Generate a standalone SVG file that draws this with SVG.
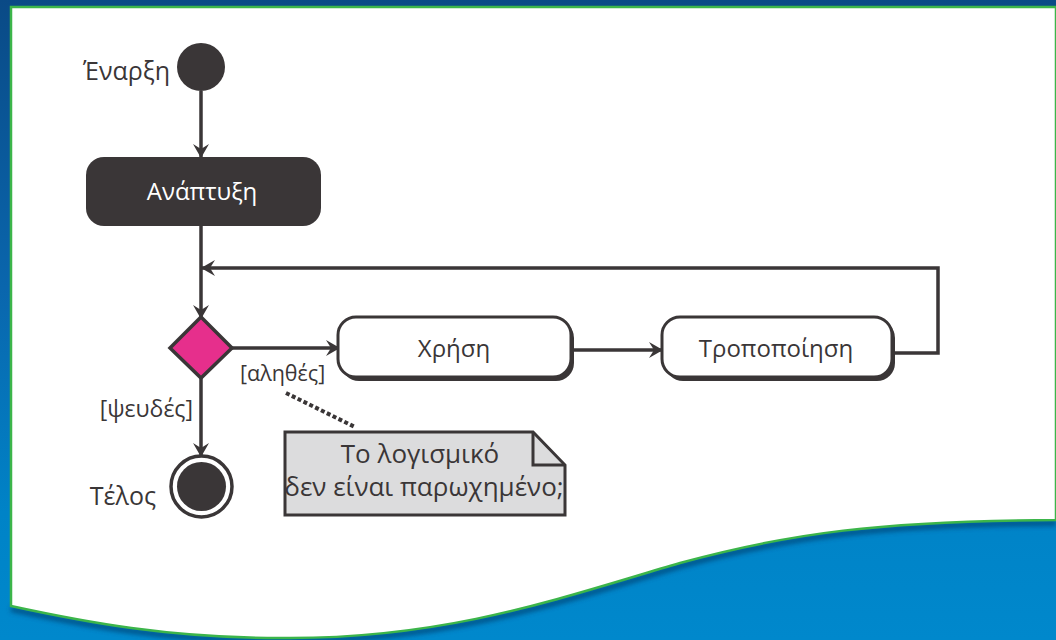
<svg xmlns="http://www.w3.org/2000/svg" width="1056" height="640" viewBox="0 0 1056 640">
  <defs>
    <linearGradient id="bgGrad" x1="0" y1="0" x2="0" y2="1">
      <stop offset="0" stop-color="#0a4a86"/>
      <stop offset="0.45" stop-color="#0a66ad"/>
      <stop offset="0.8" stop-color="#0083c7"/>
      <stop offset="1" stop-color="#0088cc"/>
    </linearGradient>
    <filter id="soft" x="-5%" y="-20%" width="110%" height="140%">
      <feGaussianBlur stdDeviation="2.5"/>
    </filter>
    <marker id="arrow" viewBox="0 0 14 16" markerWidth="14" markerHeight="16" refX="13" refY="8" orient="auto" markerUnits="userSpaceOnUse">
      <path d="M0,0 L14,8 L0,16 L5,8 Z" fill="#3a3637"/>
    </marker>
    <style>
      .ink { stroke: #3a3637; stroke-width: 3.5; fill: none; }
      .lbl { font-family: "Open Sans", "Noto Sans", "DejaVu Sans", sans-serif; fill: #3a3637; }
      .node-text { font-family: "Open Sans", "Noto Sans", "DejaVu Sans", sans-serif; font-size: 24px; text-anchor: middle; }
      .box { fill: #ffffff; stroke: #3a3637; stroke-width: 3; }
      .shadow { fill: #3a3637; }
    </style>
  </defs>

  <!-- backdrop and white sheet with wavy lower edge -->
  <rect x="0" y="0" width="1056" height="640" fill="url(#bgGrad)"/>
  <path d="M11,609 C80,624 170,642 290,641 C450,640 560,602 680,566 C790,536 880,524 1056,523" fill="none" stroke="#003866" stroke-width="5" opacity="0.7" filter="url(#soft)"/>
  <path d="M11,7 H1056 V520 C880,521 790,533 680,563 C560,598 450,638 290,638 C170,639 80,621 11,606 Z" fill="#ffffff" stroke="#3cb54a" stroke-width="2.5"/>

  <!-- connectors -->
  <g id="connectors">
    <line class="ink" x1="201" y1="91" x2="201" y2="157" marker-end="url(#arrow)"/>
    <line class="ink" x1="201" y1="226" x2="201" y2="318" marker-end="url(#arrow)"/>
    <line class="ink" x1="232" y1="348" x2="339" y2="348" marker-end="url(#arrow)"/>
    <line class="ink" x1="572" y1="350" x2="662" y2="350" marker-end="url(#arrow)"/>
    <polyline class="ink" points="892,353 938,353 938,268 202,268" marker-end="url(#arrow)"/>
    <line class="ink" x1="201" y1="378" x2="201" y2="456" marker-end="url(#arrow)"/>
    <line x1="286" y1="393" x2="355" y2="427" stroke="#3a3637" stroke-width="4" stroke-dasharray="4 2.5"/>
    <text class="lbl" x="240" y="381" font-size="21.5">[αληθές]</text>
    <text class="lbl" x="193" y="417" font-size="23" text-anchor="end">[ψευδές]</text>
  </g>

  <!-- start -->
  <g id="start">
    <circle cx="201" cy="67" r="24" fill="#3a3637"/>
    <text class="lbl" x="170" y="80" font-size="25" text-anchor="end">Έναρξη</text>
  </g>

  <!-- development activity -->
  <g id="development">
    <rect x="86" y="157" width="235" height="69" rx="18" fill="#3a3637"/>
    <text class="node-text" x="202" y="200" fill="#ffffff">Ανάπτυξη</text>
  </g>

  <!-- decision -->
  <g id="decision">
    <polygon points="201,317 232,348 201,378 170,348" fill="#e62f8c" stroke="#3a3637" stroke-width="3.5" stroke-linejoin="miter"/>
  </g>

  <!-- use activity -->
  <g id="use">
    <rect class="shadow" x="341" y="320" width="233" height="61" rx="18"/>
    <rect class="box" x="338" y="317" width="233" height="60" rx="18"/>
    <text class="node-text" x="454" y="357" fill="#3a3637">Χρήση</text>
  </g>

  <!-- modification activity -->
  <g id="modification">
    <rect class="shadow" x="665" y="320" width="230" height="61" rx="18"/>
    <rect class="box" x="662" y="317" width="230" height="60" rx="18"/>
    <text class="node-text" x="776" y="357" fill="#3a3637">Τροποποίηση</text>
  </g>

  <!-- end -->
  <g id="end">
    <circle cx="201.5" cy="486.5" r="30.5" fill="#ffffff" stroke="#3a3637" stroke-width="3.5"/>
    <circle cx="201.5" cy="486.5" r="24.5" fill="#3a3637"/>
    <text class="lbl" x="156" y="505" font-size="25" text-anchor="end">Τέλος</text>
  </g>

  <!-- note -->
  <g id="note">
    <path d="M285,432 H533 L565,465 V515 H285 Z" fill="#dcdcdd" stroke="#3a3637" stroke-width="3" stroke-linejoin="miter"/>
    <path d="M533,432 V465 H565" fill="none" stroke="#3a3637" stroke-width="3"/>
    <text class="lbl" x="420" y="463" font-size="26" text-anchor="middle">Το λογισμικό</text>
    <text class="lbl" x="424" y="496" font-size="26" text-anchor="middle">δεν είναι παρωχημένο;</text>
  </g>
</svg>
